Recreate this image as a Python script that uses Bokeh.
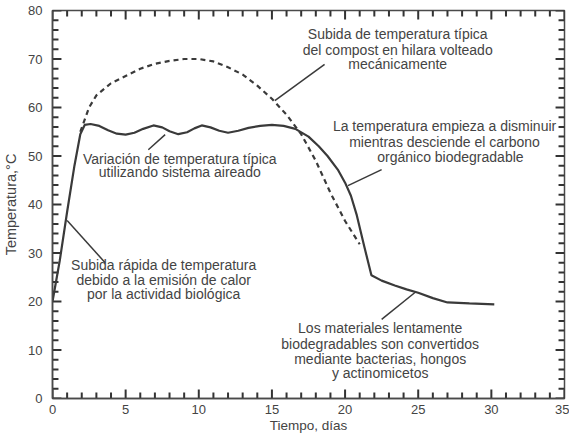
from bokeh.plotting import figure
from bokeh.models import ColumnDataSource, FixedTicker, Range1d
from bokeh.core.properties import value
from bokeh.embed import file_html
from bokeh.resources import INLINE

# ---- data ----
aerated_days = [0, 0.5, 1.0, 1.5, 1.9, 2.2, 2.6, 3.2, 3.8, 4.4, 5.0, 5.6, 6.2, 6.9, 7.5, 8.0,
                8.6, 9.2, 9.7, 10.2, 10.8, 11.4, 12.0, 12.7, 13.4, 14.2, 15.0, 15.8, 16.6,
                17.5, 18.2, 18.8, 19.5, 20.0, 20.4, 20.8, 21.3, 21.8, 22.5, 23.4, 24.2,
                25.0, 26.0, 27.0, 28.5, 30.2]
aerated_temp = [20, 28.5, 38.5, 48, 54.5, 56.4, 56.6, 56.2, 55.3, 54.6, 54.4, 54.8, 55.6, 56.3,
                55.9, 55.1, 54.5, 54.9, 55.7, 56.3, 55.9, 55.2, 54.8, 55.2, 55.8, 56.2, 56.4,
                56.2, 55.6, 54.0, 52.0, 50.0, 47.2, 44.5, 41.8, 37.8, 31.5, 25.4, 24.3, 23.3,
                22.5, 21.8, 20.7, 19.8, 19.6, 19.4]

windrow_days = [1.9, 2.5, 3.0, 4.0, 5.0, 6.0, 7.0, 8.0, 9.0, 10.0, 11.0, 12.0, 13.0, 14.0,
                15.0, 16.0, 17.0, 18.0, 19.0, 20.0, 21.0]
windrow_temp = [55, 60, 62.5, 65, 66.5, 68, 69, 69.6, 70, 70, 69.5, 68.3, 66.8, 64.5, 61.8,
                58.5, 54.5, 49, 42.4, 36.6, 31.8]

x_ticks = [0, 5, 10, 15, 20, 25, 30, 35]
y_ticks = [0, 10, 20, 30, 40, 50, 60, 70, 80]
x_minor = list(range(0, 36))
y_minor = list(range(0, 81, 2))

note_lines = [
    "Subida de temperatura típica", "del compost en hilara volteado", "mecánicamente",
    "La temperatura empieza a disminuir", "mientras desciende el carbono", "orgánico biodegradable",
    "Variación de temperatura típica", "utilizando sistema aireado",
    "Subida rápida de temperatura", "debido a la emisión de calor", "por la actividad biológica",
    "Los materiales lentamente", "biodegradables son convertidos", "mediante bacterias, hongos",
    "y actinomicetos",
]
note_x = [23.6, 23.6, 23.6, 26.8, 26.8, 27.2, 8.7, 8.7, 7.6, 7.6, 7.6, 22.4, 22.4, 22.4, 22.4]
note_y = [75.1, 71.8, 68.9, 56.1, 52.8, 49.7, 49.3, 46.6, 27.6, 24.5, 21.6, 14.6, 11.3, 8.2, 5.2]

leader_x0 = [18.6, 22.5, 6.55, 1.0, 22.5]
leader_y0 = [68.9, 47.2, 51.3, 36.7, 16.3]
leader_x1 = [15.2, 20.2, 7.7, 3.6, 24.8]
leader_y1 = [61.4, 43.9, 54.4, 28.0, 21.9]

X0, X1, Y0, Y1 = 0, 35, 0, 80

FONT = "Liberation Sans"
INK = "#3a3a3a"
TXT = "#444444"
AX = "#4a4a4a"

W, H = 569, 436
ML, MR, MT, MB = 49, 5, 10, 38
p = figure(width=W, height=H, output_backend="svg", toolbar_location=None,
           x_range=Range1d(X0, X1), y_range=Range1d(Y0, Y1),
           min_border_left=ML, min_border_right=MR, min_border_top=MT, min_border_bottom=MB)
p.background_fill_color = "white"
p.border_fill_color = "white"
p.outline_line_color = AX
p.outline_line_width = 1.5
p.grid.visible = False

fw, fh = W - ML - MR, H - MT - MB
ux = (X1 - X0) / fw
uy = (Y1 - Y0) / fh

xt = FixedTicker(ticks=x_ticks, minor_ticks=[])
yt = FixedTicker(ticks=y_ticks, minor_ticks=[])
bottom = p.below[0]
left = p.left[0]
bottom.ticker = xt
left.ticker = yt

for ax in [bottom, left]:
    ax.axis_line_color = AX
    ax.axis_line_width = 1.5
    ax.major_tick_in = 0
    ax.major_tick_out = 0
    ax.minor_tick_in = 0
    ax.minor_tick_out = 0
    ax.major_label_text_font = FONT
    ax.major_label_text_font_size = "13px"
    ax.major_label_text_color = TXT
    ax.axis_label_text_font = FONT
    ax.axis_label_text_font_size = "13.5px"
    ax.axis_label_text_font_style = "normal"
    ax.axis_label_text_color = TXT

bottom.axis_label = "Tiempo, días"
left.axis_label = "Temperatura,°C"
left.axis_label_text_font_size = "14.5px"
bottom.major_label_standoff = 6
left.major_label_standoff = 10
bottom.axis_label_standoff = 1
left.axis_label_standoff = 6

# inward tick marks on all four sides, built from the tick lists
MAJ, MIN = 9, 6  # tick lengths in px
bx0, by0, bx1, by1 = [], [], [], []
for t in x_minor:
    L = (MAJ if t in x_ticks else MIN) * uy
    bx0 += [t, t]; by0 += [Y0, Y1]; bx1 += [t, t]; by1 += [Y0 + L, Y1 - L]
for t in y_minor:
    L = (MAJ if t in y_ticks else MIN) * ux
    bx0 += [X0, X1]; by0 += [t, t]; bx1 += [X0 + L, X1 - L]; by1 += [t, t]
tick_src = ColumnDataSource(dict(x0=[float(v) for v in bx0], y0=[float(v) for v in by0],
                                 x1=[float(v) for v in bx1], y1=[float(v) for v in by1]))
p.segment(x0="x0", y0="y0", x1="x1", y1="y1", source=tick_src,
          line_color="#333333", line_width=2.0)

p.line(windrow_days, windrow_temp, line_color=INK, line_width=2.2, line_dash="5 4")
p.line(aerated_days, aerated_temp, line_color=INK, line_width=2.2)

p.segment(x0=leader_x0, y0=leader_y0, x1=leader_x1, y1=leader_y1,
          line_color=INK, line_width=1.5)

src = ColumnDataSource(dict(x=note_x, y=note_y, t=note_lines))
p.text(x="x", y="y", text="t", source=src, text_align="center", text_baseline="middle",
       text_font=value(FONT), text_font_size="14px", text_color=TXT)

open("out.html", "w").write(file_html(p, INLINE))
